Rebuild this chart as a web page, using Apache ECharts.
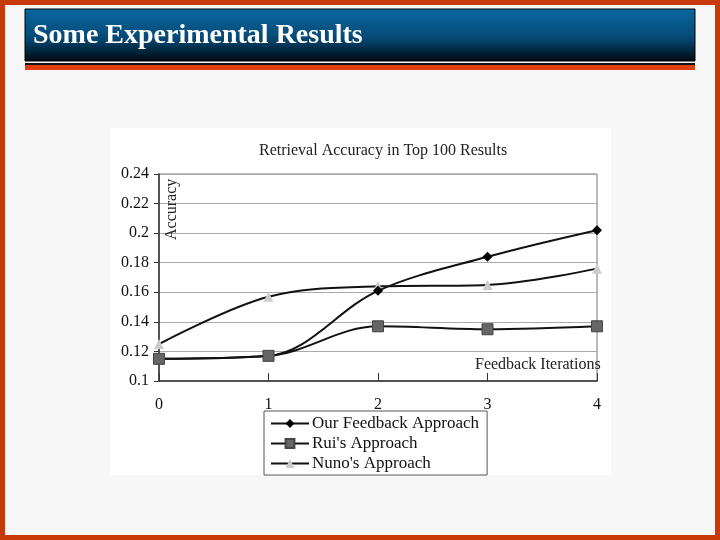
<!DOCTYPE html>
<html>
<head>
<meta charset="utf-8">
<script src="https://cdn.jsdelivr.net/npm/echarts@6/dist/echarts.min.js"></script>
<style>
html,body{margin:0;padding:0;background:#f7f7f7;}
#chart{width:720px;height:540px;}
</style>
</head>
<body>
<div id="chart"></div>
<script>
var slideTitle = 'Some Experimental Results';
var chartTitle = 'Retrieval Accuracy in Top 100 Results';
var iterations = ['0', '1', '2', '3', '4'];
var ourFeedback = [0.115, 0.117, 0.161, 0.184, 0.202];
var ruiApproach = [0.115, 0.117, 0.137, 0.135, 0.137];
var nunoApproach = [0.125, 0.157, 0.164, 0.165, 0.176];
var seriesNames = ['Our Feedback Approach', "Rui's Approach", "Nuno's Approach"];

var serif = '"Liberation Serif", "DejaVu Serif", serif';
var chart = echarts.init(document.getElementById('chart'));

chart.setOption({
  backgroundColor: '#f7f7f7',
  animation: false,
  graphic: [
    { type: 'rect', shape: { x: 0, y: 0, width: 720, height: 540 },
      style: { fill: 'none', stroke: '#c8390a', lineWidth: 10 }, z: 0 },
    { type: 'rect', shape: { x: 25, y: 9, width: 670, height: 52 },
      style: { fill: new echarts.graphic.LinearGradient(0, 0, 0, 1, [
        { offset: 0, color: '#0868a0' }, { offset: 0.55, color: '#064a76' }, { offset: 1, color: '#010810' }
      ]), stroke: '#000', lineWidth: 1 }, z: 1 },
    { type: 'text', left: 33, top: 22,
      style: { text: slideTitle, fill: '#fff', font: 'bold 28px ' + serif }, z: 2 },
    { type: 'rect', shape: { x: 25, y: 63, width: 670, height: 2 }, style: { fill: '#111' }, z: 1 },
    { type: 'rect', shape: { x: 25, y: 65, width: 670, height: 5 }, style: { fill: '#e0400e' }, z: 1 },
    { type: 'rect', shape: { x: 110, y: 128, width: 501, height: 347 }, style: { fill: '#ffffff' }, z: -1 },
    { type: 'text', left: 259, top: 143,
      style: { text: chartTitle, fill: '#222', font: '16px ' + serif }, z: 2 },
    { type: 'text', x: 164, y: 240, rotation: Math.PI / 2,
      style: { text: 'Accuracy', fill: '#222', font: '16px ' + serif }, z: 2 },
    { type: 'text', left: 475, top: 357,
      style: { text: 'Feedback Iterations', fill: '#222', font: '16px ' + serif }, z: 2 }
  ],
  grid: { left: 159, right: 123, top: 174, bottom: 159, show: true,
          borderColor: '#777', borderWidth: 1, backgroundColor: 'transparent' },
  legend: {
    orient: 'vertical', left: 264, top: 411, width: 222,
    padding: [4, 8, 3, 6], itemGap: 3, itemWidth: 38, itemHeight: 11,
    borderColor: '#555', borderWidth: 1, backgroundColor: '#fff',
    textStyle: { fontFamily: serif, fontSize: 17, color: '#111', padding: [0, 0, 0, -2] },
    data: seriesNames
  },
  xAxis: {
    type: 'category', data: iterations, boundaryGap: false,
    axisLine: { lineStyle: { color: '#333', width: 1.5 } },
    axisTick: { show: true, length: -8, lineStyle: { color: '#333' } },
    axisLabel: { color: '#111', fontFamily: serif, fontSize: 16, margin: 16 },
    splitLine: { show: false }
  },
  yAxis: {
    type: 'value', min: 0.1, max: 0.24, interval: 0.02,
    axisLine: { show: true, lineStyle: { color: '#333', width: 1.5 } },
    axisTick: { show: true, length: 5, lineStyle: { color: '#333' } },
    axisLabel: { color: '#111', fontFamily: serif, fontSize: 16, margin: 10,
                 formatter: function (v) { return String(+v.toFixed(2)); } },
    splitLine: { show: true, lineStyle: { color: '#aaa', width: 1 } }
  },
  series: [
    { name: seriesNames[0], type: 'line', data: ourFeedback, smooth: 0.35,
      symbol: 'diamond', symbolSize: 10, lineStyle: { color: '#111', width: 2 },
      itemStyle: { color: '#000' }, z: 3 },
    { name: seriesNames[1], type: 'line', data: ruiApproach, smooth: 0.35,
      symbol: 'rect', symbolSize: 11, lineStyle: { color: '#111', width: 2 },
      itemStyle: { color: '#666', borderColor: '#444', borderWidth: 1 }, z: 4 },
    { name: seriesNames[2], type: 'line', data: nunoApproach, smooth: 0.35,
      symbol: 'triangle', symbolSize: 10, lineStyle: { color: '#111', width: 2 },
      itemStyle: { color: '#ccc' }, z: 2 }
  ]
});
</script>
</body>
</html>
